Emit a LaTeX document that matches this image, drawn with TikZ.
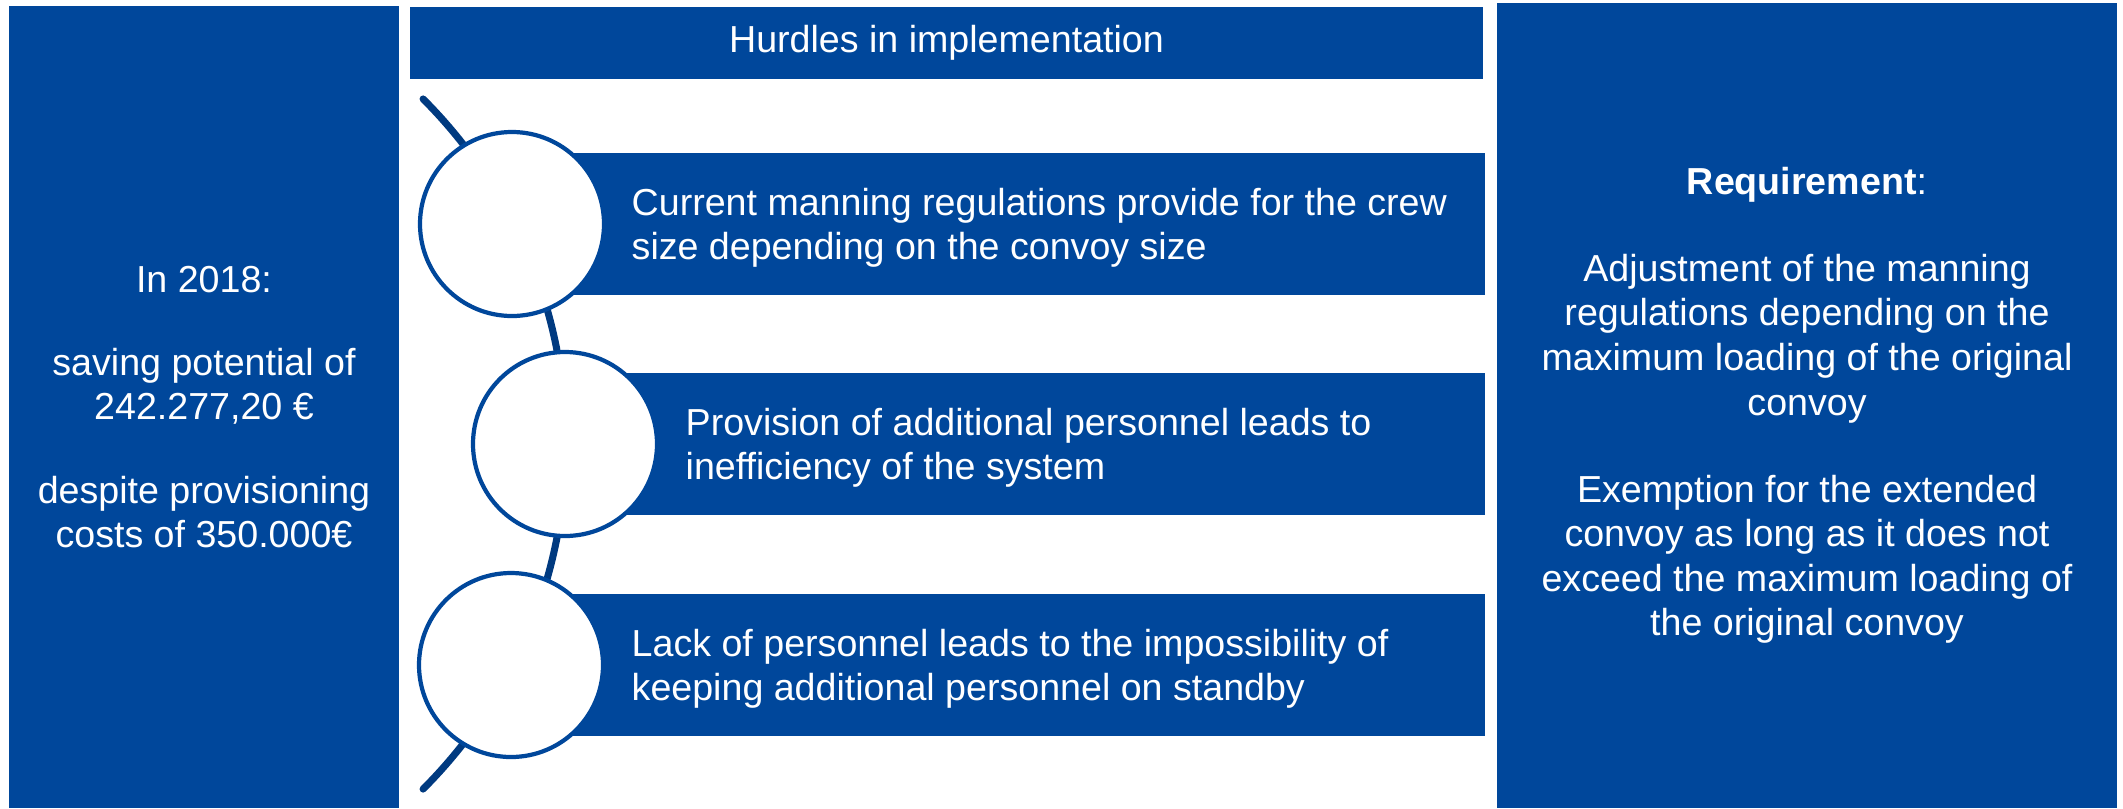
\documentclass[tikz,border=0pt]{standalone}
\usepackage{fontspec}
\setmainfont{Liberation Sans}
\usetikzlibrary{positioning}
\definecolor{boxblue}{RGB}{0,71,155}
\definecolor{arcblue}{RGB}{0,58,128}

\tikzset{
  panel/.style={rectangle, fill=boxblue, text=white, align=center, inner sep=0pt,
    font=\fontsize{10.7}{12.7}\selectfont},
  bar/.style={rectangle, fill=boxblue, inner sep=0pt, anchor=west, minimum height=1.42cm},
  bartext/.style={text=white, align=left, anchor=west, inner sep=0pt,
    font=\fontsize{10.7}{12.5}\selectfont},
  ring/.style={circle, draw=boxblue, line width=1.2pt, fill=white, inner sep=0pt,
    minimum size=1.84cm},
}

\begin{document}
\begin{tikzpicture}
\useasboundingbox[fill=white] (0,0) rectangle (21.23,-8.08); % page

% left and right columns
\node[panel, minimum width=3.90cm, minimum height=8.02cm] (saving) at (2.04,-4.07)
  {In 2018:\\[11pt] saving potential of\\ 242.277,20 €\\[11pt] despite provisioning\\ costs of 350.000€};
\node[panel, minimum width=6.20cm, minimum height=8.05cm] (requirement) at (18.07,-4.055)
  {\textbf{Requirement}:\\[12pt] Adjustment of the manning\\ regulations depending on the\\
   maximum loading of the original\\ convoy\\[12pt] Exemption for the extended\\
   convoy as long as it does not\\ exceed the maximum loading of\\ the original convoy};
\node[panel, minimum width=10.73cm, minimum height=0.72cm] (hurdles) at (9.465,-0.43)
  {Hurdles in implementation};

% the arc behind the rings
\draw[arcblue, line width=2pt, line cap=round] (0.78,-4.44) ++(45:4.88) arc (45:-45:4.88);

% bars and rings
\foreach \i/\x/\y/\w in {1/5.12/-2.24/9.72, 2/5.65/-4.44/9.19, 3/5.11/-6.65/9.73}
{
  \node[bar, minimum width=\w cm] (bar\i) at (\x,\y) {};
  \node[ring] (ring\i) at (\x,\y) {};
}

\node[bartext] (text1) at ([xshift=1.19cm,yshift=-0.04cm]ring1.center)
  {Current manning regulations provide for the crew\\ size depending on the convoy size};
\node[bartext] (text2) at ([xshift=1.20cm,yshift=-0.04cm]ring2.center)
  {Provision of additional personnel leads to\\ inefficiency of the system};
\node[bartext] (text3) at ([xshift=1.20cm,yshift=-0.04cm]ring3.center)
  {Lack of personnel leads to the impossibility of\\ keeping additional personnel on standby};
\end{tikzpicture}
\end{document}
